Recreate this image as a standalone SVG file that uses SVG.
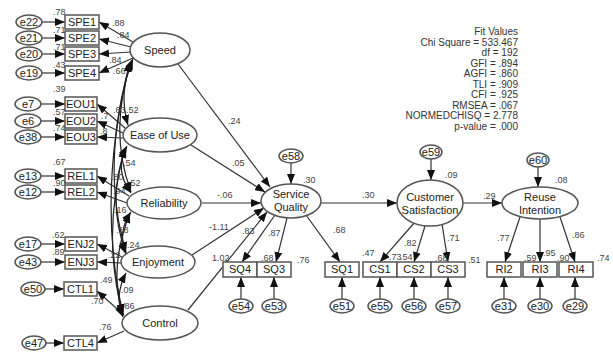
<svg xmlns="http://www.w3.org/2000/svg" width="613" height="352" viewBox="0 0 613 352">
<style>
text{font-family:"Liberation Sans",Arial,sans-serif;fill:#222}
.lbl{font-size:11px;text-anchor:middle}
.num{font-size:9px;fill:#444}
.fit{font-size:10px;text-anchor:end;fill:#333}
.box{fill:#fff;stroke:#555;stroke-width:1.5}
.ell{fill:#fff;stroke:#555;stroke-width:1.5}
.ar{fill:none;stroke:#333;stroke-width:1.2;marker-end:url(#ah)}
.cv{fill:none;stroke:#222;stroke-width:1.2;marker-end:url(#ah);marker-start:url(#ah)}
</style>
<defs>
<marker id="ah" markerUnits="userSpaceOnUse" markerWidth="10" markerHeight="8" refX="10" refY="4" orient="auto-start-reverse"><path d="M0,0 L10,4 L0,8 z" fill="#111"/></marker>
</defs>
<rect width="613" height="352" fill="#fff"/>

<g id="connectors">
<path class="ar" d="M42,22 L65,22"/>
<path class="ar" d="M42,38 L65,38"/>
<path class="ar" d="M42,54 L65,54"/>
<path class="ar" d="M42,73 L65,73"/>
<path class="ar" d="M41,104 L65,104"/>
<path class="ar" d="M41,121 L65,121"/>
<path class="ar" d="M41,137 L65,137"/>
<path class="ar" d="M41,176 L65,176"/>
<path class="ar" d="M41,192 L65,192"/>
<path class="ar" d="M41,244 L65,244"/>
<path class="ar" d="M41,262 L65,262"/>
<path class="ar" d="M45,289 L64,289"/>
<path class="ar" d="M46,343 L64,343"/>
<path class="ar" d="M133,42 L99,22"/>
<path class="ar" d="M131,47 L99,39"/>
<path class="ar" d="M131,52 L99,54"/>
<path class="ar" d="M133,58 L99,73"/>
<path class="ar" d="M125,128 L97,104"/>
<path class="ar" d="M123,133 L97,121"/>
<path class="ar" d="M123,138 L97,137"/>
<path class="ar" d="M129,196 L97,176"/>
<path class="ar" d="M127,203 L97,192"/>
<path class="ar" d="M122,257 L97,244"/>
<path class="ar" d="M121,263 L97,262"/>
<path class="ar" d="M124,315 L97,291"/>
<path class="ar" d="M124,331 L97,343"/>
<path class="cv" d="M133,59 Q118,92 128,125"/>
<path class="cv" d="M132,60 Q108,130 131,192"/>
<path class="cv" d="M131,61 Q100,165 126,252"/>
<path class="cv" d="M130,62 Q96,195 123,314"/>
<path class="cv" d="M127,146 Q114,170 131,193"/>
<path class="cv" d="M126,147 Q106,200 126,253"/>
<path class="cv" d="M125,148 Q101,235 123,315"/>
<path class="cv" d="M131,212 Q117,232 126,254"/>
<path class="cv" d="M130,213 Q108,268 123,316"/>
<path class="cv" d="M126,273 Q114,296 123,317"/>
<path class="ar" d="M178,64 L270,187"/>
<path class="ar" d="M191,145 L265,192"/>
<path class="ar" d="M202,203 L261,203"/>
<path class="ar" d="M192,255 L264,208"/>
<path class="ar" d="M188,310 L267,212"/>
<path class="ar" d="M291,163 L291,184"/>
<path class="ar" d="M321,203 L397,203"/>
<path class="ar" d="M431,159 L431,180"/>
<path class="ar" d="M463,203 L502,203"/>
<path class="ar" d="M538,167 L538,187"/>
<path class="ar" d="M275,215 L242,262"/>
<path class="ar" d="M287,218 L276,262"/>
<path class="ar" d="M306,215 L340,262"/>
<path class="ar" d="M241,299 L241,277"/>
<path class="ar" d="M274,299 L274,277"/>
<path class="ar" d="M342,299 L342,277"/>
<path class="ar" d="M415,222 L380,262"/>
<path class="ar" d="M425,226 L414,262"/>
<path class="ar" d="M442,224 L448,262"/>
<path class="ar" d="M380,299 L380,277"/>
<path class="ar" d="M414,299 L414,277"/>
<path class="ar" d="M448,299 L448,277"/>
<path class="ar" d="M520,217 L505,262"/>
<path class="ar" d="M540,219 L540,262"/>
<path class="ar" d="M560,217 L575,262"/>
<path class="ar" d="M504,299 L504,277"/>
<path class="ar" d="M540,299 L540,277"/>
<path class="ar" d="M575,299 L575,277"/>
</g>

<g id="e22"><ellipse class="ell" cx="29" cy="22" rx="13" ry="7"/><text class="lbl" x="29" y="26">e22</text></g>
<g id="e21"><ellipse class="ell" cx="29" cy="38" rx="13" ry="7"/><text class="lbl" x="29" y="42">e21</text></g>
<g id="e20"><ellipse class="ell" cx="29" cy="54" rx="13" ry="7"/><text class="lbl" x="29" y="58">e20</text></g>
<g id="e19"><ellipse class="ell" cx="29" cy="73" rx="13" ry="7"/><text class="lbl" x="29" y="77">e19</text></g>
<g id="e7"><ellipse class="ell" cx="28" cy="104" rx="13" ry="7"/><text class="lbl" x="28" y="108">e7</text></g>
<g id="e6"><ellipse class="ell" cx="28" cy="121" rx="13" ry="7"/><text class="lbl" x="28" y="125">e6</text></g>
<g id="e38"><ellipse class="ell" cx="28" cy="137" rx="13" ry="7"/><text class="lbl" x="28" y="141">e38</text></g>
<g id="e13"><ellipse class="ell" cx="28" cy="176" rx="13" ry="7"/><text class="lbl" x="28" y="180">e13</text></g>
<g id="e12"><ellipse class="ell" cx="28" cy="192" rx="13" ry="7"/><text class="lbl" x="28" y="196">e12</text></g>
<g id="e17"><ellipse class="ell" cx="28" cy="244" rx="13" ry="7"/><text class="lbl" x="28" y="248">e17</text></g>
<g id="e43"><ellipse class="ell" cx="28" cy="262" rx="13" ry="7"/><text class="lbl" x="28" y="266">e43</text></g>
<g id="e50"><ellipse class="ell" cx="33" cy="289" rx="12" ry="7"/><text class="lbl" x="33" y="293">e50</text></g>
<g id="e47"><ellipse class="ell" cx="34" cy="343" rx="12" ry="7"/><text class="lbl" x="34" y="347">e47</text></g>

<g id="SPE1"><rect class="box" x="65" y="15" width="34" height="14"/><text class="lbl" x="82" y="26">SPE1</text></g>
<g id="SPE2"><rect class="box" x="65" y="31" width="34" height="14"/><text class="lbl" x="82" y="42">SPE2</text></g>
<g id="SPE3"><rect class="box" x="65" y="47" width="34" height="14"/><text class="lbl" x="82" y="58">SPE3</text></g>
<g id="SPE4"><rect class="box" x="65" y="66" width="34" height="14"/><text class="lbl" x="82" y="77">SPE4</text></g>
<g id="EOU1"><rect class="box" x="65" y="97" width="32" height="14"/><text class="lbl" x="81" y="108">EOU1</text></g>
<g id="EOU2"><rect class="box" x="65" y="114" width="32" height="14"/><text class="lbl" x="81" y="125">EOU2</text></g>
<g id="EOU3"><rect class="box" x="65" y="130" width="32" height="14"/><text class="lbl" x="81" y="141">EOU3</text></g>
<g id="REL1"><rect class="box" x="65" y="169" width="32" height="14"/><text class="lbl" x="81" y="180">REL1</text></g>
<g id="REL2"><rect class="box" x="65" y="185" width="32" height="14"/><text class="lbl" x="81" y="196">REL2</text></g>
<g id="ENJ2"><rect class="box" x="65" y="237" width="32" height="14"/><text class="lbl" x="81" y="248">ENJ2</text></g>
<g id="ENJ3"><rect class="box" x="65" y="255" width="32" height="14"/><text class="lbl" x="81" y="266">ENJ3</text></g>
<g id="CTL1"><rect class="box" x="64" y="282" width="33" height="14"/><text class="lbl" x="80.5" y="293">CTL1</text></g>
<g id="CTL4"><rect class="box" x="64" y="336" width="33" height="14"/><text class="lbl" x="80.5" y="347">CTL4</text></g>

<g id="Speed"><ellipse class="ell" cx="160" cy="50" rx="30" ry="17"/><text class="lbl" x="160" y="54">Speed</text></g>
<g id="EaseOfUse"><ellipse class="ell" cx="160" cy="135" rx="37" ry="17"/><text class="lbl" x="160" y="139">Ease of Use</text></g>
<g id="Reliability"><ellipse class="ell" cx="164" cy="203" rx="37" ry="16"/><text class="lbl" x="164" y="207">Reliability</text></g>
<g id="Enjoyment"><ellipse class="ell" cx="158" cy="262" rx="37" ry="16"/><text class="lbl" x="158" y="266">Enjoyment</text></g>
<g id="Control"><ellipse class="ell" cx="160" cy="323" rx="38" ry="17"/><text class="lbl" x="160" y="327">Control</text></g>

<g id="ServiceQuality"><ellipse class="ell" cx="291" cy="201" rx="30" ry="17"/><text class="lbl" x="291" y="198">Service</text><text class="lbl" x="291" y="211">Quality</text></g>
<g id="CustomerSatisfaction"><ellipse class="ell" cx="430" cy="203" rx="33" ry="23"/><text class="lbl" x="430" y="201">Customer</text><text class="lbl" x="430" y="214">Satisfaction</text></g>
<g id="ReuseIntention"><ellipse class="ell" cx="540" cy="203" rx="38" ry="16"/><text class="lbl" x="540" y="201">Reuse</text><text class="lbl" x="540" y="214">Intention</text></g>

<g id="e58"><ellipse class="ell" cx="291" cy="156" rx="12" ry="7"/><text class="lbl" x="291" y="160">e58</text></g>
<g id="e59"><ellipse class="ell" cx="431" cy="152" rx="11" ry="7"/><text class="lbl" x="431" y="156">e59</text></g>
<g id="e60"><ellipse class="ell" cx="538" cy="160" rx="11" ry="7"/><text class="lbl" x="538" y="164">e60</text></g>

<g id="SQ4"><rect class="box" x="223" y="262" width="34" height="15"/><text class="lbl" x="240" y="273">SQ4</text></g>
<g id="SQ3"><rect class="box" x="257" y="262" width="34" height="15"/><text class="lbl" x="274" y="273">SQ3</text></g>
<g id="SQ1"><rect class="box" x="325" y="262" width="34" height="15"/><text class="lbl" x="342" y="273">SQ1</text></g>
<g id="CS1"><rect class="box" x="363" y="262" width="34" height="15"/><text class="lbl" x="380" y="273">CS1</text></g>
<g id="CS2"><rect class="box" x="397" y="262" width="34" height="15"/><text class="lbl" x="414" y="273">CS2</text></g>
<g id="CS3"><rect class="box" x="431" y="262" width="34" height="15"/><text class="lbl" x="448" y="273">CS3</text></g>
<g id="RI2"><rect class="box" x="487" y="262" width="34" height="15"/><text class="lbl" x="504" y="273">RI2</text></g>
<g id="RI3"><rect class="box" x="523" y="262" width="34" height="15"/><text class="lbl" x="540" y="273">RI3</text></g>
<g id="RI4"><rect class="box" x="559" y="262" width="34" height="15"/><text class="lbl" x="576" y="273">RI4</text></g>

<g id="e54"><ellipse class="ell" cx="241" cy="306" rx="12" ry="7"/><text class="lbl" x="241" y="310">e54</text></g>
<g id="e53"><ellipse class="ell" cx="274" cy="306" rx="12" ry="7"/><text class="lbl" x="274" y="310">e53</text></g>
<g id="e51"><ellipse class="ell" cx="342" cy="306" rx="12" ry="7"/><text class="lbl" x="342" y="310">e51</text></g>
<g id="e55"><ellipse class="ell" cx="380" cy="306" rx="12" ry="7"/><text class="lbl" x="380" y="310">e55</text></g>
<g id="e56"><ellipse class="ell" cx="414" cy="306" rx="12" ry="7"/><text class="lbl" x="414" y="310">e56</text></g>
<g id="e57"><ellipse class="ell" cx="448" cy="306" rx="12" ry="7"/><text class="lbl" x="448" y="310">e57</text></g>
<g id="e31"><ellipse class="ell" cx="504" cy="306" rx="12" ry="7"/><text class="lbl" x="504" y="310">e31</text></g>
<g id="e30"><ellipse class="ell" cx="540" cy="306" rx="12" ry="7"/><text class="lbl" x="540" y="310">e30</text></g>
<g id="e29"><ellipse class="ell" cx="575" cy="306" rx="12" ry="7"/><text class="lbl" x="575" y="310">e29</text></g>

<g id="estimates">
<text class="num" x="53" y="15">.78</text>
<text class="num" x="53" y="33">.71</text>
<text class="num" x="53" y="50">.71</text>
<text class="num" x="53" y="68">.43</text>
<text class="num" x="53" y="92">.39</text>
<text class="num" x="53" y="115">.57</text>
<text class="num" x="53" y="131">.74</text>
<text class="num" x="53" y="165">.67</text>
<text class="num" x="53" y="186">.90</text>
<text class="num" x="52" y="238">.62</text>
<text class="num" x="52" y="255">.89</text>
<text class="num" x="112" y="26">.88</text>
<text class="num" x="117" y="38">.84</text>
<text class="num" x="109" y="63">.84</text>
<text class="num" x="113" y="74">.66</text>
<text class="num" x="113" y="113">.63</text>
<text class="num" x="126" y="113">.52</text>
<text class="num" x="101" y="119">.7</text>
<text class="num" x="100" y="134">.8</text>
<text class="num" x="123" y="166">.54</text>
<text class="num" x="111" y="180">.80</text>
<text class="num" x="128" y="186">.52</text>
<text class="num" x="113" y="194">.94</text>
<text class="num" x="114" y="213">.16</text>
<text class="num" x="116" y="233">.18</text>
<text class="num" x="127" y="248">.24</text>
<text class="num" x="108" y="258">.22</text>
<text class="num" x="100" y="283">.49</text>
<text class="num" x="121" y="293">.09</text>
<text class="num" x="122" y="309">.86</text>
<text class="num" x="91" y="304">.70</text>
<text class="num" x="99" y="330">.76</text>
<text class="num" x="228" y="124">.24</text>
<text class="num" x="232" y="166">.05</text>
<text class="num" x="217" y="198">-.06</text>
<text class="num" x="209" y="230">-1.11</text>
<text class="num" x="212" y="261">1.02</text>
<text class="num" x="242" y="234">.83</text>
<text class="num" x="268" y="236">.87</text>
<text class="num" x="261" y="261">.68</text>
<text class="num" x="297" y="263">.76</text>
<text class="num" x="303" y="183">.30</text>
<text class="num" x="333" y="233">.68</text>
<text class="num" x="362" y="198">.30</text>
<text class="num" x="362" y="256">.47</text>
<text class="num" x="389" y="260">.73</text>
<text class="num" x="400" y="260">.54</text>
<text class="num" x="404" y="246">.82</text>
<text class="num" x="435" y="261">.68</text>
<text class="num" x="447" y="241">.71</text>
<text class="num" x="468" y="263">.51</text>
<text class="num" x="445" y="178">.09</text>
<text class="num" x="483" y="199">.29</text>
<text class="num" x="555" y="183">.08</text>
<text class="num" x="497" y="241">.77</text>
<text class="num" x="524" y="261">.59</text>
<text class="num" x="543" y="256">.95</text>
<text class="num" x="572" y="238">.86</text>
<text class="num" x="557" y="261">.90</text>
<text class="num" x="597" y="261">.74</text>
</g>

<g id="fit">
<text class="fit" x="518" y="35">Fit Values</text>
<text class="fit" x="518" y="45.5">Chi Square = 533.467</text>
<text class="fit" x="518" y="56">df = 192</text>
<text class="fit" x="518" y="66.5">GFI = .894</text>
<text class="fit" x="518" y="77">AGFI = .860</text>
<text class="fit" x="518" y="87.5">TLI = .909</text>
<text class="fit" x="518" y="98">CFI = .925</text>
<text class="fit" x="518" y="108.5">RMSEA = .067</text>
<text class="fit" x="518" y="119">NORMEDCHISQ = 2.778</text>
<text class="fit" x="518" y="129.5">p-value = .000</text>
</g>
</svg>
